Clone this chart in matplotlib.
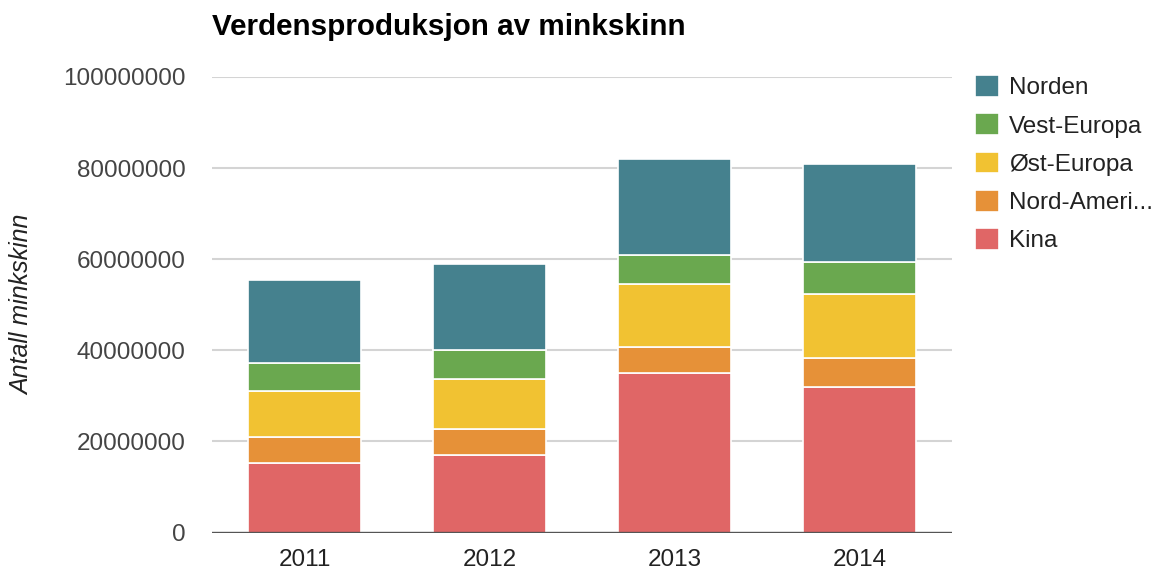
import matplotlib
matplotlib.use("Agg")
import numpy as np
from matplotlib import pyplot as plt

plt.rcParams['font.family'] = ['Liberation Sans', 'DejaVu Sans']

# data (number of mink skins)
years = ['2011', '2012', '2013', '2014']
kina = [15300000, 17100000, 35100000, 32000000]
nord_amerika = [5750000, 5700000, 5700000, 6200000]
ost_europa = [10050000, 11000000, 13700000, 14100000]
vest_europa = [6150000, 6200000, 6500000, 7000000]
norden = [18250000, 19000000, 20900000, 21700000]

series_names = ['Kina', 'Nord-Ameri...', 'Øst-Europa', 'Vest-Europa', 'Norden']
series_colors = ['#e06666', '#e69138', '#f1c232', '#6aa84f', '#45818e']
yticks = [0, 20000000, 40000000, 60000000, 80000000, 100000000]

W, H = 1156, 569
fig = plt.figure(figsize=(W / 100, H / 100), dpi=100)
ax = fig.add_axes([212 / W, (H - 532.5) / H, 740 / W, 455.5 / H])

x = np.arange(len(years))
bottom = np.zeros(len(years))
containers = []
for name, vals, col in zip(series_names,
                           [kina, nord_amerika, ost_europa, vest_europa, norden],
                           series_colors):
    bc = ax.bar(x, vals, width=0.616, bottom=bottom, color=col,
                edgecolor='white', linewidth=1.2, label=name, zorder=3)
    containers.append(bc)
    bottom += np.array(vals)

ax.set_xlim(-0.5, len(years) - 0.5)
ax.set_ylim(0, 100000000)
ax.set_yticks(yticks)
ax.set_yticklabels([str(v) for v in yticks])
ax.set_xticks(x)
ax.set_xticklabels(years)

ax.grid(axis='y', color='#d4d4d4', linewidth=1.5, zorder=0)
ax.axhline(0, color='#555555', linewidth=1.7, zorder=4)
for s in ax.spines.values():
    s.set_visible(False)

ax.tick_params(axis='y', length=0, pad=19, labelsize=17.5, labelcolor='#444444')
ax.tick_params(axis='x', length=0, pad=12, labelsize=17.5, labelcolor='#222222')

fig.text(212 / W, 1 - 35 / H, 'Verdensproduksjon av minkskinn',
         fontsize=21.3, fontweight='bold', color='#000000',
         ha='left', va='baseline')
fig.text(22 / W, 1 - 305 / H, 'Antall minkskinn', rotation=90,
         fontsize=18, fontstyle='italic', color='#222222',
         ha='center', va='center')

handles = containers[::-1]
labels = series_names[::-1]
fig.legend(handles, labels, loc='upper left', bbox_to_anchor=(975 / W, 1 - 75 / H),
           frameon=False, fontsize=17.5, handlelength=1.0, handleheight=1.0,
           handletextpad=0.4, labelspacing=0.58, borderpad=0, borderaxespad=0,
           labelcolor='#222222')

fig.savefig('out.png', dpi=100)
